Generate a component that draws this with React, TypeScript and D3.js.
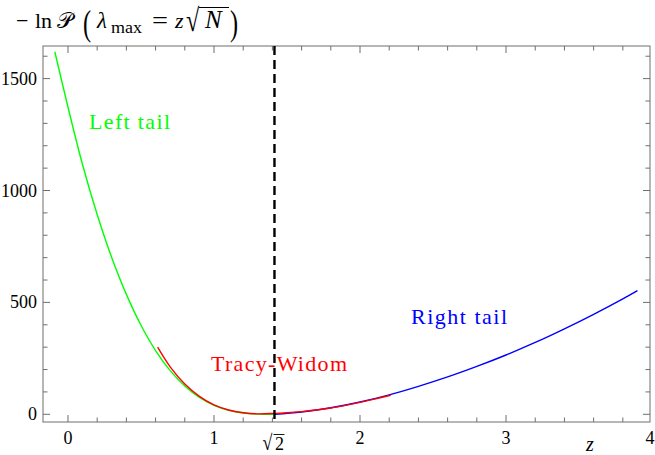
import React from 'react';
import * as d3 from 'd3';

const W = 655;
const H = 455;

// Left tail (green)
const leftTailZ = [-0.09, 0, 0.1, 0.2, 0.3, 0.4, 0.5, 0.6, 0.7, 0.8, 0.9, 1.0, 1.1, 1.2, 1.3, 1.414];
const leftTailV = [1620, 1373, 1115, 893, 700, 536, 398, 285, 195, 126, 75, 40, 18, 6, 1, 0];

// Tracy-Widom (red)
const twZ = [0.614, 0.7, 0.8, 0.9, 1.0, 1.1, 1.2, 1.3, 1.414, 1.5, 1.6, 1.7, 1.8, 1.9, 2.0, 2.1, 2.21];
const twV = [300, 212, 135, 80, 42, 19, 7, 2, 4, 7, 12, 19, 28, 40, 53, 68, 85];

// Right tail (blue)
const rightTailZ = [1.414, 1.6, 1.8, 2.0, 2.2, 2.4, 2.6, 2.8, 3.0, 3.2, 3.4, 3.6, 3.8, 3.9];
const rightTailV = [0, 10, 29, 55, 87, 125, 167, 214, 265, 321, 382, 447, 516, 553];

const xMajorTicks = [0, 1, 2, 3, 4];
const xMajorLabels = ['0', '1', '2', '3', '4'];
const yMajorTicks = [0, 500, 1000, 1500];
const yMajorLabels = ['0', '500', '1000', '1500'];
const sqrt2 = Math.SQRT2;

const FONT = 'Liberation Serif';
const FRAME = '#6e6e6e';

export default function App() {
  const left = 43, right = 650, top = 46, bottom = 422;
  const x = d3.scaleLinear().domain([-0.171, 3.986]).range([left, right]);
  const y = d3.scaleLinear().domain([-34.4, 1645.7]).range([bottom, top]);

  const line = d3
    .line<[number, number]>()
    .x((d) => x(d[0]))
    .y((d) => y(d[1]))
    .curve(d3.curveCatmullRom.alpha(0.5));

  const green = line(leftTailZ.map((z, i) => [z, leftTailV[i]] as [number, number])) || '';
  const red = line(twZ.map((z, i) => [z, twV[i]] as [number, number])) || '';
  const blue = line(rightTailZ.map((z, i) => [z, rightTailV[i]] as [number, number])) || '';

  const xMinor = d3.range(0, 4.001, 0.2).filter((v) => Math.abs(v - Math.round(v)) > 1e-6);
  const yMinor = d3.range(0, 1700, 100).filter((v) => v % 500 !== 0);

  const MAJ = 7, MIN = 4.5;
  const ticks: JSX.Element[] = [];
  xMajorTicks.forEach((v, i) => {
    const px = x(v);
    if (px > right + 0.5) return;
    ticks.push(<line key={'xb' + i} x1={px} x2={px} y1={bottom} y2={bottom - MAJ} />);
    ticks.push(<line key={'xt' + i} x1={px} x2={px} y1={top} y2={top + MAJ} />);
  });
  xMinor.forEach((v, i) => {
    const px = x(v);
    if (px > right) return;
    ticks.push(<line key={'xbm' + i} x1={px} x2={px} y1={bottom} y2={bottom - MIN} />);
    ticks.push(<line key={'xtm' + i} x1={px} x2={px} y1={top} y2={top + MIN} />);
  });
  yMajorTicks.forEach((v, i) => {
    const py = y(v);
    ticks.push(<line key={'yl' + i} x1={left} x2={left + MAJ} y1={py} y2={py} />);
    ticks.push(<line key={'yr' + i} x1={right} x2={right - MAJ} y1={py} y2={py} />);
  });
  yMinor.forEach((v, i) => {
    const py = y(v);
    if (py < top) return;
    ticks.push(<line key={'ylm' + i} x1={left} x2={left + MIN} y1={py} y2={py} />);
    ticks.push(<line key={'yrm' + i} x1={right} x2={right - MIN} y1={py} y2={py} />);
  });

  const xs = x(sqrt2);

  return (
    <svg width={W} height={H} style={{ position: 'absolute', left: 0, top: 0, background: '#fff' }}>
      <rect x={0} y={0} width={W} height={H} fill="#fff" />
      {/* frame */}
      <rect x={left} y={top} width={right - left} height={bottom - top} fill="none" stroke={FRAME} strokeWidth={1} />
      <g stroke={FRAME} strokeWidth={1}>{ticks}</g>

      <g fontFamily={FONT}>
        {/* y labels */}
        {yMajorTicks.map((v, i) => (
          <text key={'yt' + i} x={37} y={y(v) + 6} fontSize={18} textAnchor="end" fill="#000">
            {yMajorLabels[i]}
          </text>
        ))}
        {/* x labels */}
        {xMajorTicks.map((v, i) => (
          <text key={'xl' + i} x={x(v) - (v === 4 ? 2 : 0)} y={444} fontSize={18} textAnchor="middle" fill="#000">
            {xMajorLabels[i]}
          </text>
        ))}
        {/* sqrt2 label */}
        <text transform={`translate(${xs - 12},450) scale(1,1.2)`} fontSize={18} fill="#000">√</text>
        <text x={xs + 0.5} y={450} fontSize={18} fill="#000">2</text>
        {/* z axis label */}
        <text x={586} y={451} fontSize={20} fontStyle="italic" fill="#000">z</text>
      </g>
      <line x1={xs - 1} x2={xs + 10} y1={434.5} y2={434.5} stroke="#000" strokeWidth={0.9} />

      {/* curves */}
      <path d={green} fill="none" stroke="#00ff00" strokeWidth={1.4} />
      <path d={blue} fill="none" stroke="#0000ff" strokeWidth={1.4} />
      <path d={red} fill="none" stroke="#ff0000" strokeWidth={1.4} />

      {/* annotations */}
      <g fontFamily={FONT} fontSize={22}>
        <text x={89} y={129} fill="#00ff00" textLength={81} lengthAdjust="spacing">Left tail</text>
        <text x={211} y={371} fill="#ff0000" textLength={136} lengthAdjust="spacing">Tracy-Widom</text>
        <text x={411} y={324} fill="#0000ff" textLength={96} lengthAdjust="spacing">Right tail</text>
      </g>

      {/* dashed sqrt2 line */}
      <line x1={xs} x2={xs} y1={top} y2={bottom} stroke="#000" strokeWidth={2.4} strokeDasharray="9 5" />

      {/* title */}
      <g fill="#000" fontSize={22} fontFamily={FONT}>
        <text x={16} y={28}>−</text>
        <text x={35} y={28}>ln</text>
        <text x={57} y={28}>𝒫</text>
        <text transform="translate(83,35) scale(1.1,1.6)">(</text>
        <text x={97} y={28} fontStyle="italic" fontSize={23}>λ</text>
        <text x={111} y={33} fontSize={17} textLength={31} lengthAdjust="spacingAndGlyphs">max</text>
        <text x={152} y={28} fontSize={24} textLength={16} lengthAdjust="spacingAndGlyphs">=</text>
        <text x={175} y={28} fontStyle="italic">z</text>
        <text transform="translate(186,31) scale(1.1,1.45)">√</text>
        <text x={205} y={28} fontStyle="italic" fontSize={25}>N</text>
        <text transform="translate(230,35) scale(1.1,1.6)">)</text>
      </g>
      <line x1={199} x2={229} y1={7.5} y2={7.5} stroke="#000" strokeWidth={1} />
    </svg>
  );
}
